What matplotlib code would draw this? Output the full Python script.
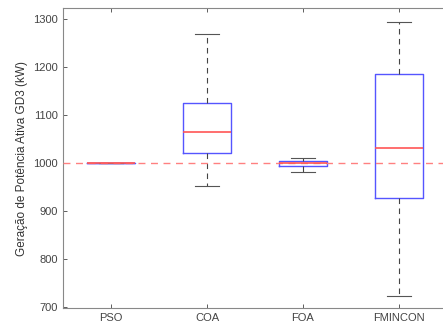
import numpy as np
from matplotlib import pyplot as plt

plt.rcParams['font.family'] = ['Liberation Sans', 'DejaVu Sans']

# box statistics (kW)
labels = ['PSO', 'COA', 'FOA', 'FMINCON']
whislo = [1000, 952, 981, 723]
q1 = [1000, 1021, 993, 927]
med = [1000, 1065, 1000, 1031]
q3 = [1000, 1125, 1004, 1185]
whishi = [1000, 1268, 1010, 1293]
ref_value = 1000

stats = []
for i in range(len(labels)):
    stats.append(dict(label=labels[i], whislo=whislo[i], q1=q1[i], med=med[i],
                      q3=q3[i], whishi=whishi[i], fliers=[]))

fig = plt.figure(figsize=(4.43, 3.29), dpi=100)
# right edge of the axes falls just outside the picture, as in the original crop
ax = fig.add_axes([63 / 443, 21 / 329, 384 / 443, 300 / 329])

ax.bxp(stats, widths=0.5, showfliers=False,
       boxprops=dict(color='#5555ff', linewidth=1.0),
       medianprops=dict(color='#ff5555', linewidth=1.2, zorder=4),
       whiskerprops=dict(color='#444444', linewidth=0.8, linestyle=(0, (5, 4))),
       capprops=dict(color='#555555', linewidth=0.8),
       capwidths=0.25)

ax.axhline(ref_value, color='#ff8080', linewidth=1.0, linestyle=(0, (5, 4)), zorder=3)

ax.set_xlim(0.5, 4.5)
ax.set_ylim(697, 1323)
ax.set_yticks(np.arange(700, 1301, 100))
ax.set_ylabel('Geração de Potência Ativa GD3 (kW)', fontsize=8.5, color='#333333')
ax.tick_params(direction='in', length=3, labelsize=8, colors='#444444',
               top=True, right=False, width=0.6)
ax.spines['right'].set_visible(False)
for s in ax.spines.values():
    s.set_color('#888888')
    s.set_linewidth(0.8)

fig.savefig('out.png', dpi=100)
